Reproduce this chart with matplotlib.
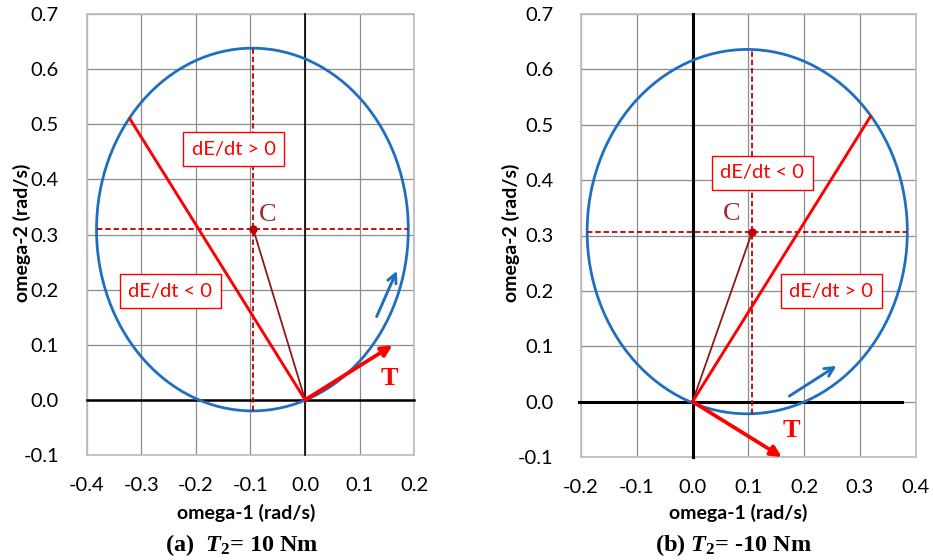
import matplotlib
matplotlib.use("Agg")
import matplotlib.pyplot as plt
from matplotlib.patches import Ellipse

plt.rcParams['font.family'] = ['Lato', 'DejaVu Sans']
plt.rcParams['mathtext.fontset'] = 'custom'
plt.rcParams['mathtext.it'] = 'Liberation Serif:italic:bold'
plt.rcParams['mathtext.rm'] = 'Liberation Serif:bold'
plt.rcParams['mathtext.bf'] = 'Liberation Serif:bold'

# ---------------- data ----------------
x_ticks_a = [-0.4, -0.3, -0.2, -0.1, 0.0, 0.1, 0.2]
x_ticks_b = [-0.2, -0.1, 0.0, 0.1, 0.2, 0.3, 0.4]
y_ticks = [-0.1, 0.0, 0.1, 0.2, 0.3, 0.4, 0.5, 0.6, 0.7]

# panel (a)  T2 = 10 Nm
ell_center_a = (-0.0965, 0.309)
ell_semi_a = (0.2855, 0.329)
c_point_a = (-0.095, 0.310)
red_line_a = ([0.0, -0.321], [0.0, 0.510])
t_arrow_a = (0.160, 0.099)
blue_arrow_a = ([0.131, 0.168], [0.151, 0.234])
box_hi_a = (-0.131, 0.455, "dE/dt > 0")
box_lo_a = (-0.247, 0.197, "dE/dt < 0")
c_label_a = (-0.068, 0.336)
t_label_a = (0.154, 0.039)
hline_a = [-0.4, 0.2]

# panel (b)  T2 = -10 Nm
ell_center_b = (0.098, 0.307)
ell_semi_b = (0.287, 0.329)
c_point_b = (0.107, 0.307)
red_line_b = ([0.0, 0.319], [0.0, 0.515])
t_arrow_b = (0.160, -0.100)
blue_arrow_b = ([0.1735, 0.258], [0.010, 0.0646])
box_hi_b = (0.125, 0.413, "dE/dt < 0")
box_lo_b = (0.249, 0.199, "dE/dt > 0")
c_label_b = (0.071, 0.338)
t_label_b = (0.177, -0.053)
hline_b = [-0.203, 0.375]

BLUE = '#1f6fbf'
RED = '#ff0000'
DRED = '#c00000'
BROWN = '#8b1a1a'


def panel(ax, xlim, xticks, center, semi, cpt, redline, tarrow, barrow,
          boxes, clabel, tlabel, hline, vlw, hlw):
    ax.set_xlim(xlim)
    ax.set_ylim(-0.1, 0.7)
    ax.set_xticks(xticks)
    ax.set_yticks(y_ticks)
    ax.set_xticklabels([f"{v:.1f}" for v in xticks])
    ax.set_yticklabels([f"{v:.1f}" for v in y_ticks])
    ax.tick_params(length=0, labelsize=14.5)
    ax.tick_params(axis='y', pad=20)
    ax.tick_params(axis='x', pad=16)
    ax.grid(True, color='#8c8c8c', lw=0.9)
    ax.set_axisbelow(True)
    for s in ax.spines.values():
        s.set_color('#bfbfbf')
        s.set_linewidth(1.3)

    # coordinate axes
    ax.plot(hline, [0, 0], color='black', lw=hlw, zorder=3, clip_on=False)
    ax.plot([0, 0], [-0.1, 0.7], color='black', lw=vlw, zorder=3, clip_on=False)

    # ellipse
    ax.add_patch(Ellipse(center, 2 * semi[0], 2 * semi[1], fill=False,
                         edgecolor=BLUE, lw=2.0, zorder=4))

    # dashed center lines
    ax.plot([cpt[0], cpt[0]], [center[1] - semi[1], center[1] + semi[1]],
            color=DRED, lw=1.3, ls=(0, (3, 1.6)), zorder=4)
    ax.plot([center[0] - semi[0], center[0] + semi[0]], [cpt[1], cpt[1]],
            color=DRED, lw=1.3, ls=(0, (3, 1.6)), zorder=4)

    # line origin -> C
    ax.plot([0, cpt[0]], [0, cpt[1]], color=BROWN, lw=1.3, zorder=5)
    ax.plot([cpt[0]], [cpt[1]], 'o', color=DRED, ms=5, zorder=6)

    # red line
    ax.plot(redline[0], redline[1], color=RED, lw=2.1, zorder=5)

    # T arrow
    ax.annotate('', xy=tarrow, xytext=(0, 0),
                arrowprops=dict(arrowstyle='-|>', color=RED, lw=2.7,
                                mutation_scale=16, shrinkA=0, shrinkB=0),
                zorder=6, annotation_clip=False)
    # blue direction arrow
    ax.annotate('', xy=(barrow[0][1], barrow[1][1]),
                xytext=(barrow[0][0], barrow[1][0]),
                arrowprops=dict(arrowstyle='->', color=BLUE, lw=2.1,
                                mutation_scale=16, shrinkA=0, shrinkB=0),
                zorder=6)

    for bx, by, txt in boxes:
        ax.text(bx, by, txt, color=RED, fontsize=14.5, ha='center', va='center',
                zorder=7,
                bbox=dict(boxstyle='square,pad=0.42', fc='white', ec=RED, lw=1.0))

    ax.text(clabel[0], clabel[1], 'C', color='#a52a2a', fontsize=19,
            family='Liberation Serif', ha='center', va='center', zorder=7)
    ax.text(tlabel[0], tlabel[1], 'T', color=RED, fontsize=19,
            family='Liberation Serif', fontweight='bold',
            ha='center', va='center', zorder=7)


fig = plt.figure(figsize=(9.33, 5.6), dpi=100)
ax1 = fig.add_axes([86.7 / 933, 1 - 455 / 560, (414.3 - 86.7) / 933, (455 - 14) / 560])
ax2 = fig.add_axes([581 / 933, 1 - 457 / 560, (915.7 - 581) / 933, (457 - 14) / 560])

panel(ax1, (-0.4, 0.2), x_ticks_a, ell_center_a, ell_semi_a, c_point_a,
      red_line_a, t_arrow_a, blue_arrow_a, [box_hi_a, box_lo_a],
      c_label_a, t_label_a, hline_a, vlw=1.2, hlw=1.8)
panel(ax2, (-0.2, 0.4), x_ticks_b, ell_center_b, ell_semi_b, c_point_b,
      red_line_b, t_arrow_b, blue_arrow_b, [box_hi_b, box_lo_b],
      c_label_b, t_label_b, hline_b, vlw=2.2, hlw=2.2)

# axis labels
fig.text(246 / 933, 1 - 513 / 560, 'omega-1 (rad/s)', fontsize=14,
         fontweight='bold', ha='center', va='center')
fig.text(738 / 933, 1 - 513 / 560, 'omega-1 (rad/s)', fontsize=14,
         fontweight='bold', ha='center', va='center')
fig.text(22 / 933, 1 - 233 / 560, 'omega-2 (rad/s)', fontsize=14,
         fontweight='bold', ha='center', va='center', rotation=90)
fig.text(511 / 933, 1 - 233 / 560, 'omega-2 (rad/s)', fontsize=14,
         fontweight='bold', ha='center', va='center', rotation=90)

# captions
fig.text(241.5 / 933, 1 - 545 / 560, r'(a)  $T_2$= 10 Nm', fontsize=17.5,
         family='Liberation Serif', fontweight='bold', ha='center', va='center')
fig.text(734 / 933, 1 - 545 / 560, r'(b) $T_2$= -10 Nm', fontsize=17.5,
         family='Liberation Serif', fontweight='bold', ha='center', va='center')

fig.savefig('out.png', dpi=100)
